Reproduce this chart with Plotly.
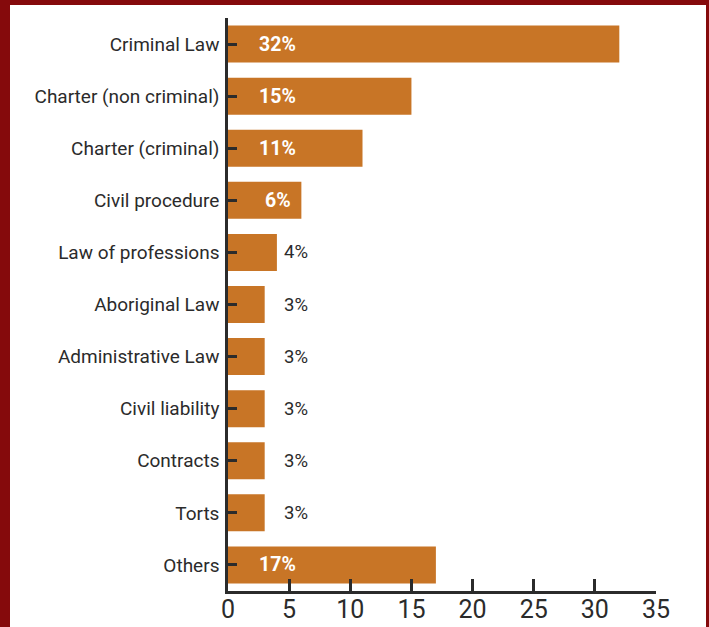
import plotly.graph_objects as go

categories = ["Criminal Law", "Charter (non criminal)", "Charter (criminal)", "Civil procedure",
              "Law of professions", "Aboriginal Law", "Administrative Law", "Civil liability",
              "Contracts", "Torts", "Others"]
shares = [32, 15, 11, 6, 4, 3, 3, 3, 3, 3, 17]
x_ticks = [0, 5, 10, 15, 20, 25, 30, 35]

BAR = "#C87526"
FRAME = "#850A0C"
INK = "#2b2b2b"
FONT = "Roboto"

fig = go.Figure(go.Bar(
    x=shares, y=categories, orientation="h",
    marker=dict(color=BAR, line=dict(width=0)),
    hoverinfo="skip",
))

# value labels: bold white inside long bars, plain dark beside short ones
annotations = []
for cat, v in zip(categories, shares):
    inside = v >= 6
    annotations.append(dict(
        x=4.08 if inside else 4.4, y=cat, xref="x", yref="y",
        text=f"<b>{v}%</b>" if inside else f"{v}%",
        showarrow=False, xanchor="center" if inside else "left", yanchor="middle",
        font=dict(family=FONT, size=19.5 if inside else 18.5, color="white" if inside else INK),
    ))

# dark red frame: paper coloured red, white panel drawn behind the plot
shapes = [dict(type="rect", xref="paper", yref="paper", layer="below",
               x0=(10 - 228) / 428, x1=(706 - 228) / 428,
               y0=-0.1, y1=(591 - 5) / 573,
               fillcolor="white", line=dict(width=0))]

fig.update_layout(
    width=709, height=627,
    margin=dict(l=228, r=53, t=18, b=36, autoexpand=False),
    paper_bgcolor=FRAME, plot_bgcolor="white",
    bargap=0.29, showlegend=False,
    font=dict(family=FONT, color=INK),
    annotations=annotations, shapes=shapes,
    xaxis=dict(range=[0, 35], tickvals=x_ticks, ticks="inside", ticklen=12, tickwidth=2.5,
               tickcolor=INK, showline=True, linecolor=INK, linewidth=2.5, showgrid=False,
               zeroline=False, automargin=False, ticklabelstandoff=-6,
               tickfont=dict(family=FONT, size=25, color=INK)),
    yaxis=dict(autorange="reversed", ticks="inside", ticklen=9, tickwidth=2.5, tickcolor=INK,
               showline=True, linecolor=INK, linewidth=2.5, showgrid=False, automargin=False,
               tickfont=dict(family=FONT, size=19, color=INK), ticklabelstandoff=2),
)

fig.write_html("out.html")
